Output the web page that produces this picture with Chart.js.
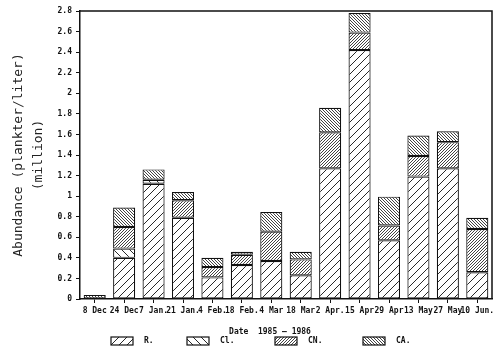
<!DOCTYPE html>
<html>
<head>
<meta charset="utf-8">
<script src="https://cdn.jsdelivr.net/npm/chart.js@4.4.1/dist/chart.umd.min.js"></script>
<style>
html,body{margin:0;padding:0;background:#fff;}
#wrap{width:500px;height:362px;}
</style>
</head>
<body>
<div id="wrap"><canvas id="c" width="500" height="362"></canvas></div>
<script>
const categories = ['8 Dec','24 Dec','7 Jan.','21 Jan.','4 Feb.','18 Feb.','4 Mar','18 Mar','2 Apr.','15 Apr','29 Apr','13 May','27 May','10 Jun.'];
const seriesR  = [null, 0.40, 1.12, 0.79, 0.21, 0.33, 0.37, 0.23, 1.27, 2.42, 0.57, 1.19, 1.27, 0.26];
const seriesCl = [null, 0.09, 0.04, null, null, null, null, null, null, null, null, null, null, null];
const seriesCN = [null, 0.21, null, 0.17, 0.10, 0.10, 0.285, 0.155, 0.35, 0.17, 0.145, 0.20, 0.255, 0.42];
const seriesCA = [0.04, 0.19, 0.10, 0.08, 0.09, 0.03, 0.19, 0.075, 0.24, 0.19, 0.28, 0.20, 0.105, 0.11];
const seriesNames = ['R.', 'Cl.', 'CN.', 'CA.'];
const yTicks = [0,0.2,0.4,0.6,0.8,1,1.2,1.4,1.6,1.8,2,2.2,2.4,2.6,2.8];
const xTitle = 'Date  1985 \u2014 1986';
const yTitle = ['Abundance (plankter/liter)', '(million)'];

function hatch(spacing, forward, lw) {
  const s = spacing;
  const cv = document.createElement('canvas');
  cv.width = s; cv.height = s;
  const g = cv.getContext('2d');
  g.fillStyle = '#fff'; g.fillRect(0,0,s,s);
  g.strokeStyle = '#111'; g.lineWidth = lw;
  g.beginPath();
  if (forward) {
    g.moveTo(-1, s+1); g.lineTo(s+1, -1);
    g.moveTo(-1-s, s+1); g.lineTo(1, -1);
    g.moveTo(s-1, s+1); g.lineTo(2*s+1, -1);
  } else {
    g.moveTo(-1, -1); g.lineTo(s+1, s+1);
    g.moveTo(-1-s, -1); g.lineTo(1, s+1);
    g.moveTo(s-1, -1); g.lineTo(2*s+1, s+1);
  }
  g.stroke();
  return document.getElementById('c').getContext('2d').createPattern(cv, 'repeat');
}

const patR  = hatch(8, true, 0.9);
const patCl = hatch(8, false, 0.9);
const patCN = hatch(3, true, 0.8);
const patCA = hatch(3, false, 0.8);

const MONO = "'DejaVu Sans Mono', monospace";

const framePlugin = {
  id: 'frame',
  afterDraw(chart) {
    const {ctx, chartArea: a} = chart;
    ctx.save();
    ctx.strokeStyle = '#111';
    ctx.lineWidth = 1.5;
    ctx.beginPath();
    ctx.moveTo(a.left, a.top); ctx.lineTo(a.right, a.top); ctx.lineTo(a.right, a.bottom);
    ctx.stroke();
    // x title
    ctx.fillStyle = '#111';
    ctx.font = "bold 8px " + MONO;
    ctx.textAlign = 'center';
    ctx.textBaseline = 'middle';
    ctx.fillText(xTitle, 270, 332);
    // legend
    const xs = [111, 187, 275, 363];
    chart.data.datasets.forEach((ds, i) => {
      const x = xs[i], y = 337;
      ctx.fillStyle = ds.backgroundColor;
      ctx.fillRect(x, y, 22, 8);
      ctx.lineWidth = 1.2;
      ctx.strokeStyle = '#111';
      ctx.strokeRect(x, y, 22, 8);
      ctx.fillStyle = '#111';
      ctx.textAlign = 'left';
      ctx.fillText(ds.label, x + 33, y + 4);
    });
    ctx.restore();
  }
};

const mk = (label, data, pat) => ({
  label, data, backgroundColor: pat, borderColor: '#111', borderWidth: 1.2,
  borderSkipped: false, barPercentage: 0.75, categoryPercentage: 1.0
});

new Chart(document.getElementById('c'), {
  type: 'bar',
  data: {
    labels: categories,
    datasets: [
      mk(seriesNames[0], seriesR, patR),
      mk(seriesNames[1], seriesCl, patCl),
      mk(seriesNames[2], seriesCN, patCN),
      mk(seriesNames[3], seriesCA, patCA)
    ]
  },
  options: {
    responsive: false,
    animation: false,
    devicePixelRatio: 1,
    layout: {padding: {top: 11, right: 8, left: 0, bottom: 0}},
    plugins: {legend: {display: false}, tooltip: {enabled: false}},
    scales: {
      x: {
        stacked: true,
        afterFit(s) { s.height = 63; },
        grid: {display: true, drawOnChartArea: false, drawTicks: true, tickLength: 4, offset: false, color: '#111', lineWidth: 1},
        border: {display: true, color: '#111', width: 1.5},
        ticks: {autoSkip: false, maxRotation: 0, minRotation: 0, padding: 3, color: '#111', font: {family: MONO, size: 8, weight: 'bold'}}
      },
      y: {
        stacked: true,
        min: 0, max: 2.8,
        afterFit(s) { s.width = 80; },
        afterBuildTicks(s) { s.ticks = yTicks.map(v => ({value: v})); },
        grid: {display: true, drawOnChartArea: false, drawTicks: true, tickLength: 4, color: '#111', lineWidth: 1},
        border: {display: true, color: '#111', width: 1.5},
        ticks: {padding: 4, color: '#111', font: {family: MONO, size: 8, weight: 'bold'}, callback: v => String(Math.round(v*10)/10)},
        title: {display: true, text: yTitle, color: '#222', padding: {top: 9, bottom: 0}, font: {family: MONO, size: 13, lineHeight: 1.5}}
      }
    }
  },
  plugins: [framePlugin]
});
</script>
</body>
</html>
